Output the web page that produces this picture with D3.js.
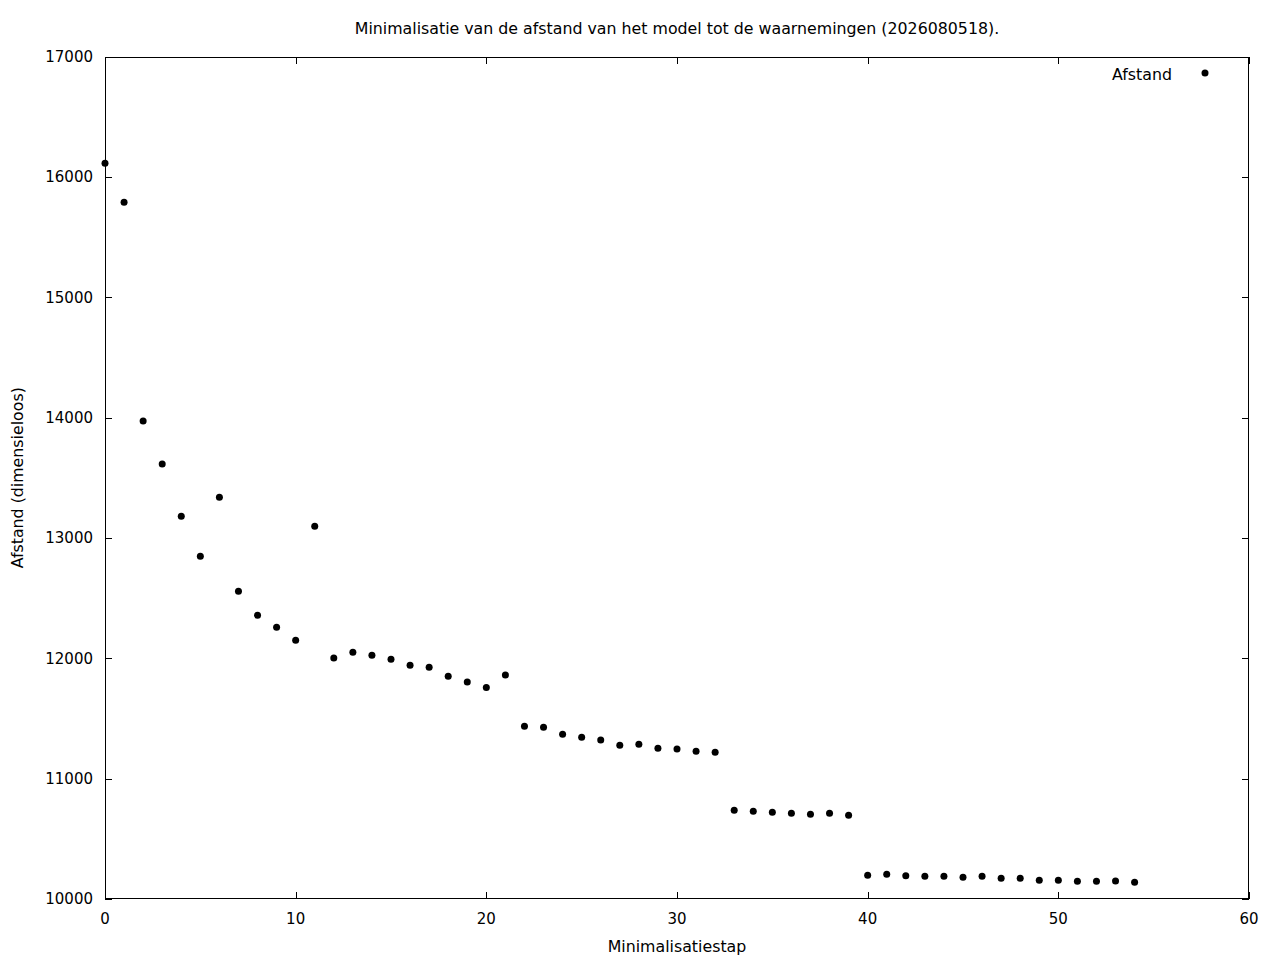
<!DOCTYPE html>
<html>
<head>
<meta charset="utf-8">
<script src="https://cdn.jsdelivr.net/npm/d3@7"></script>
<style>
  body { margin: 0; background: #fff; }
  svg { display: block; }
  text { font-family: "DejaVu Sans", sans-serif; fill: #000; }
</style>
</head>
<body>
<svg width="1280" height="960"></svg>
<script>
// minimalisation steps and distance per step
const steps = d3.range(0, 55);
const afstand = [
    16114, 15790, 13971, 13614, 13181, 12848, 13338, 12557, 12358, 12257,
    12150, 13098, 12002, 12051, 12026, 11993, 11943, 11926, 11851, 11802,
    11757, 11862, 11436, 11427, 11369, 11344, 11322, 11278, 11286, 11253,
    11247, 11228, 11219, 10738, 10729, 10721, 10712, 10704, 10712, 10696,
    10197, 10205, 10194, 10189, 10189, 10180, 10189, 10172, 10172, 10155,
    10155, 10147, 10147, 10150, 10139
];
const xTicks = [0, 10, 20, 30, 40, 50, 60];
const yTicks = [10000, 11000, 12000, 13000, 14000, 15000, 16000, 17000];

const titleText = "Minimalisatie van de afstand van het model tot de waarnemingen (2026080518).";
const xLabel = "Minimalisatiestap";
const yLabel = "Afstand (dimensieloos)";
const legendLabel = "Afstand";

const plotL = 105, plotR = 1249, plotT = 56.5, plotB = 899;
const tickLen = 7;
const tickFont = 15;
const labelFont = 15.8;

const svg = d3.select("svg");

const x = d3.scaleLinear().domain([0, 60]).range([plotL, plotR]);
const y = d3.scaleLinear().domain([10000, 17000]).range([plotB, plotT]);

// ticks, mirrored on all four sides and pointing inward
const tickG = svg.append("g")
    .attr("stroke", "#000")
    .attr("stroke-width", 1)
    .attr("shape-rendering", "crispEdges");

xTicks.forEach(t => {
    const px = Math.round(x(t)) + 0.5;
    tickG.append("line").attr("x1", px).attr("x2", px).attr("y1", plotB).attr("y2", plotB - tickLen);
    tickG.append("line").attr("x1", px).attr("x2", px).attr("y1", plotT).attr("y2", plotT + tickLen);
});
yTicks.forEach(t => {
    const py = Math.round(y(t)) + 0.5;
    tickG.append("line").attr("x1", plotL).attr("x2", plotL + tickLen).attr("y1", py).attr("y2", py);
    tickG.append("line").attr("x1", plotR).attr("x2", plotR - tickLen).attr("y1", py).attr("y2", py);
});

// frame
svg.append("rect")
    .attr("x", plotL + 0.5)
    .attr("y", Math.round(plotT) + 0.5)
    .attr("width", plotR - plotL - 1)
    .attr("height", plotB - Math.round(plotT) - 1)
    .attr("fill", "none")
    .attr("stroke", "#000")
    .attr("stroke-width", 1)
    .attr("shape-rendering", "crispEdges");

// tick labels
svg.append("g").selectAll("text")
    .data(xTicks)
    .join("text")
    .attr("x", d => x(d))
    .attr("y", plotB + 25)
    .attr("text-anchor", "middle")
    .style("font-size", tickFont + "px")
    .text(d => d);

svg.append("g").selectAll("text")
    .data(yTicks)
    .join("text")
    .attr("x", plotL - 12)
    .attr("y", d => y(d))
    .attr("dy", "0.36em")
    .attr("text-anchor", "end")
    .style("font-size", tickFont + "px")
    .text(d => d);

// title and axis labels
svg.append("text")
    .attr("x", (plotL + plotR) / 2)
    .attr("y", 34)
    .attr("text-anchor", "middle")
    .style("font-size", labelFont + "px")
    .text(titleText);

svg.append("text")
    .attr("x", (plotL + plotR) / 2)
    .attr("y", 952)
    .attr("text-anchor", "middle")
    .style("font-size", labelFont + "px")
    .text(xLabel);

svg.append("text")
    .attr("transform", `translate(23, ${(plotT + plotB) / 2}) rotate(-90)`)
    .attr("text-anchor", "middle")
    .style("font-size", labelFont + "px")
    .text(yLabel);

// points
svg.append("g").selectAll("circle")
    .data(steps)
    .join("circle")
    .attr("cx", d => x(d))
    .attr("cy", d => y(afstand[d]))
    .attr("r", 3.5)
    .attr("fill", "#000");

// legend
svg.append("text")
    .attr("x", 1172)
    .attr("y", 74)
    .attr("dy", "0.36em")
    .attr("text-anchor", "end")
    .style("font-size", labelFont + "px")
    .text(legendLabel);

svg.append("circle")
    .attr("cx", 1205)
    .attr("cy", 73)
    .attr("r", 3.5)
    .attr("fill", "#000");
</script>
</body>
</html>
